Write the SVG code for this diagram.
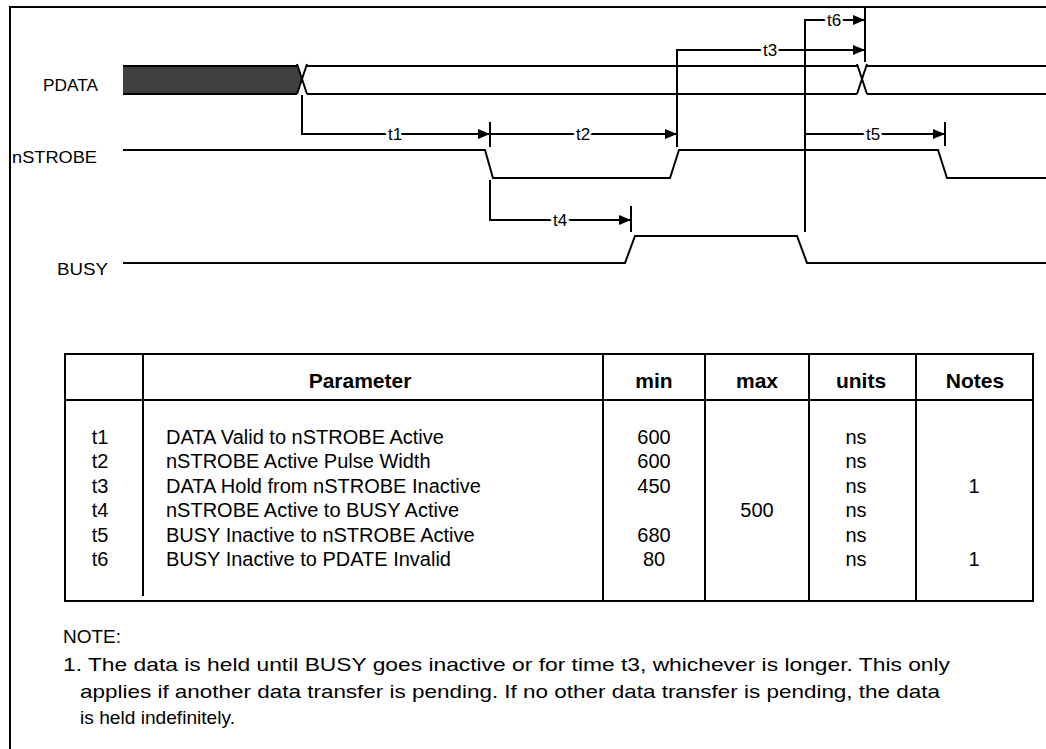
<svg xmlns="http://www.w3.org/2000/svg" width="1046" height="749" viewBox="0 0 1046 749">
<defs>
<marker id="arr" markerUnits="userSpaceOnUse" markerWidth="12" markerHeight="10" refX="12" refY="5" orient="auto">
<path d="M0,0 L12,5 L0,10 Z" fill="#000"/>
</marker>
</defs>
<style>
.ln{stroke:#000;stroke-width:2;fill:none}
.lbl{font-family:"Liberation Sans",Arial,sans-serif;font-size:17px;fill:#000}
.tl{font-family:"Liberation Sans",Arial,sans-serif;font-size:17px;fill:#000;text-anchor:middle;stroke:#fff;stroke-width:5;paint-order:stroke}
.th{font-family:"Liberation Sans",Arial,sans-serif;font-size:21px;font-weight:bold;fill:#000;text-anchor:middle}
.td{font-family:"Liberation Sans",Arial,sans-serif;font-size:20px;fill:#000}
.tc{text-anchor:middle}
.nt{font-family:"Liberation Sans",Arial,sans-serif;font-size:19px;fill:#000}
</style>
<rect x="0" y="0" width="1046" height="749" fill="#fff"/>
<path class="ln" d="M10,749 L10,7 L1046,7"/>

<g id="signal-labels">
<text class="lbl" x="43" y="91" textLength="55" lengthAdjust="spacingAndGlyphs">PDATA</text>
<text class="lbl" x="12" y="163" textLength="85" lengthAdjust="spacingAndGlyphs">nSTROBE</text>
<text class="lbl" x="57" y="275" textLength="51" lengthAdjust="spacingAndGlyphs">BUSY</text>
</g>

<g id="signals">
<polygon points="123,66 297,66 302,80 297,94 123,94" fill="#404040"/>
<path class="ln" d="M123,66 L297,66 M123,94 L297,94"/>
<path class="ln" d="M297,64 L307,94 M307,64 L297,94"/>
<path class="ln" d="M307,66 L857,66 M307,94 L857,94"/>
<path class="ln" d="M857,64 L867,94 M867,64 L857,94"/>
<path class="ln" d="M867,66 L1046,66 M867,94 L1046,94"/>
<path class="ln" d="M123,150 L485,150 L493,178 L670,178 L679,150 L938,150 L947,178 L1046,178"/>
<path class="ln" d="M123,263 L625,263 L635,236 L797,236 L807,263 L1046,263"/>
</g>

<g id="connectors">
<path class="ln" d="M302,95 L302,134 L490,134" marker-end="url(#arr)"/>
<path class="ln" d="M490,122 L490,147"/>
<path class="ln" d="M490,134 L677,134" marker-end="url(#arr)"/>
<path class="ln" d="M677,147 L677,50 L865,50" marker-end="url(#arr)"/>
<path class="ln" d="M865,7 L865,62"/>
<path class="ln" d="M805,232 L805,20 L865,20" marker-end="url(#arr)"/>
<path class="ln" d="M490,180 L490,220 L631,220" marker-end="url(#arr)"/>
<path class="ln" d="M631,206 L631,232"/>
<path class="ln" d="M805,134 L945,134" marker-end="url(#arr)"/>
<path class="ln" d="M945,122 L945,146"/>
</g>

<g id="timing-labels">
<text class="tl" x="395" y="140">t1</text>
<text class="tl" x="583" y="140">t2</text>
<text class="tl" x="770" y="56">t3</text>
<text class="tl" x="560" y="226">t4</text>
<text class="tl" x="873" y="140">t5</text>
<text class="tl" x="834" y="26">t6</text>
</g>

<g id="table">
<rect class="ln" x="65" y="354" width="968" height="247"/>
<path class="ln" d="M65,400 L1033,400"/>
<path class="ln" d="M143,354 L143,596 M603,354 L603,601 M705,354 L705,601 M809,354 L809,601 M916,354 L916,601"/>
<text class="th" x="360" y="388">Parameter</text>
<text class="th" x="654" y="388">min</text>
<text class="th" x="757" y="388">max</text>
<text class="th" x="861" y="388">units</text>
<text class="th" x="975" y="388">Notes</text>

<g class="td">
<text class="tc" x="100" y="444">t1</text>
<text class="tc" x="100" y="468">t2</text>
<text class="tc" x="100" y="493">t3</text>
<text class="tc" x="100" y="517">t4</text>
<text class="tc" x="100" y="542">t5</text>
<text class="tc" x="100" y="566">t6</text>
<text x="166" y="444">DATA Valid to nSTROBE Active</text>
<text x="166" y="468">nSTROBE Active Pulse Width</text>
<text x="166" y="493">DATA Hold from nSTROBE Inactive</text>
<text x="166" y="517">nSTROBE Active to BUSY Active</text>
<text x="166" y="542">BUSY Inactive to nSTROBE Active</text>
<text x="166" y="566">BUSY Inactive to PDATE Invalid</text>
<text class="tc" x="654" y="444">600</text>
<text class="tc" x="654" y="468">600</text>
<text class="tc" x="654" y="493">450</text>
<text class="tc" x="654" y="542">680</text>
<text class="tc" x="654" y="566">80</text>
<text class="tc" x="757" y="517">500</text>
<text class="tc" x="856" y="444">ns</text>
<text class="tc" x="856" y="468">ns</text>
<text class="tc" x="856" y="493">ns</text>
<text class="tc" x="856" y="517">ns</text>
<text class="tc" x="856" y="542">ns</text>
<text class="tc" x="856" y="566">ns</text>
<text class="tc" x="974" y="493">1</text>
<text class="tc" x="974" y="566">1</text>
</g>
</g>

<g id="note">
<text class="nt" x="63" y="643">NOTE:</text>
<text class="nt" x="63" y="671" textLength="887" lengthAdjust="spacingAndGlyphs">1.  The data is held until BUSY goes inactive or for time t3, whichever is longer.  This only</text>
<text class="nt" x="80" y="698" textLength="860" lengthAdjust="spacingAndGlyphs">applies if another data transfer is pending.  If no other data transfer is pending, the data</text>
<text class="nt" x="80" y="724" textLength="155" lengthAdjust="spacingAndGlyphs">is held indefinitely.</text>
</g>
</svg>
